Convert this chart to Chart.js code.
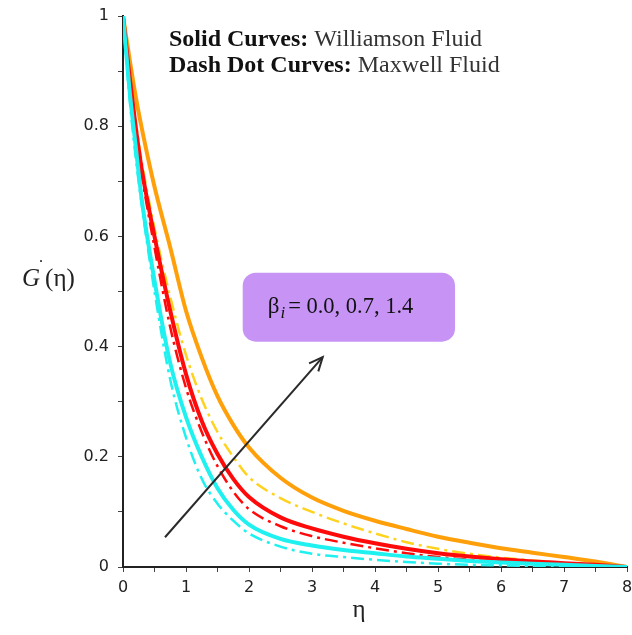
<!DOCTYPE html>
<html>
<head>
<meta charset="utf-8">
<script src="https://cdn.jsdelivr.net/npm/chart.js@4/dist/chart.umd.min.js"></script>
<style>
html,body{margin:0;padding:0;background:#fff;}
#wrap{position:relative;width:632px;height:635px;}
</style>
</head>
<body>
<div id="wrap"><canvas id="c" width="632" height="635"></canvas></div>
<script>
// eta grid
const eta = [0,0.1,0.2,0.3,0.5,0.75,1,1.25,1.5,1.75,2,2.5,3,3.5,4,4.5,5,5.5,6,6.5,7,7.5,8];
// Williamson fluid (solid)
const wilBeta00 = [1,0.87,0.765,0.665,0.52,0.37,0.272,0.2,0.143,0.104,0.077,0.051,0.039,0.031,0.025,0.019,0.015,0.011,0.008,0.006,0.004,0.002,0];
const wilBeta07 = [1,0.895,0.8,0.72,0.6,0.465,0.35,0.265,0.205,0.16,0.127,0.09,0.07,0.055,0.043,0.033,0.025,0.019,0.014,0.01,0.007,0.004,0];
const wilBeta14 = [1,0.925,0.855,0.795,0.69,0.58,0.465,0.38,0.31,0.258,0.217,0.162,0.126,0.102,0.084,0.069,0.055,0.044,0.034,0.026,0.018,0.01,0];
// Maxwell fluid (dash-dot)
const maxBeta00 = [1,0.855,0.745,0.655,0.5,0.34,0.235,0.16,0.115,0.084,0.061,0.037,0.024,0.018,0.013,0.009,0.006,0.004,0.003,0.002,0.001,0.0005,0];
const maxBeta07 = [1,0.885,0.79,0.71,0.58,0.435,0.325,0.245,0.183,0.137,0.105,0.074,0.056,0.044,0.034,0.025,0.018,0.013,0.009,0.006,0.004,0.002,0];
const maxBeta14 = [1,0.9,0.81,0.735,0.615,0.49,0.385,0.305,0.245,0.2,0.163,0.125,0.1,0.079,0.061,0.045,0.033,0.024,0.017,0.012,0.007,0.003,0];
// ticks
const xTickLabels = [0,1,2,3,4,5,6,7,8];
const yTickLabels = [0,0.2,0.4,0.6,0.8,1];
// annotation anchors in data space
const arrowFrom = {x:0.667, y:0.054};
const arrowTo = {x:3.17, y:0.381};
const boxRange = {x0:1.9, x1:5.27, y0:0.409, y1:0.534};

const toPts = arr => eta.map((e,i)=>({x:e,y:arr[i]}));

const COLORS = {cyan:'#1ff0f0', red:'#ff0a0a', orange:'#ffa00a', gold:'#ffd21e'};
const DD = [13,5,3,5];

function solid(data,color){return {data:toPts(data),borderColor:color,borderWidth:4,pointRadius:0,fill:false,cubicInterpolationMode:'monotone'};}
function dashdot(data,color){return {data:toPts(data),borderColor:color,borderWidth:2.5,borderDash:DD,pointRadius:0,fill:false,cubicInterpolationMode:'monotone'};}

const overlay = {
  id:'overlay',
  afterDatasetsDraw(chart){
    const ctx = chart.ctx, xs = chart.scales.x, ys = chart.scales.y, ca = chart.chartArea;
    ctx.save();
    // purple box
    const bx0 = xs.getPixelForValue(boxRange.x0), bx1 = xs.getPixelForValue(boxRange.x1);
    const by0 = ys.getPixelForValue(boxRange.y1), by1 = ys.getPixelForValue(boxRange.y0);
    ctx.fillStyle = '#c794f6';
    ctx.beginPath();
    ctx.roundRect(bx0,by0,bx1-bx0,by1-by0,13);
    ctx.fill();
    // box text
    ctx.fillStyle = '#111';
    ctx.textBaseline = 'alphabetic';
    const tx = bx0 + 25, ty = (by0+by1)/2 + 6;
    ctx.font = '23px "Liberation Serif"';
    ctx.fillText('β', tx, ty);
    let w = ctx.measureText('β').width;
    ctx.font = 'italic 17px "Liberation Serif"';
    ctx.fillText('i', tx + w + 1, ty + 5);
    const w2 = ctx.measureText('i').width;
    ctx.font = '22.5px "Liberation Serif"';
    ctx.fillText('= 0.0, 0.7, 1.4', tx + w + w2 + 4, ty);
    // arrow
    const ax0 = xs.getPixelForValue(arrowFrom.x), ay0 = ys.getPixelForValue(arrowFrom.y);
    const ax1 = xs.getPixelForValue(arrowTo.x), ay1 = ys.getPixelForValue(arrowTo.y);
    ctx.strokeStyle = '#2a2a2a';
    ctx.lineWidth = 2;
    ctx.beginPath(); ctx.moveTo(ax0,ay0); ctx.lineTo(ax1,ay1); ctx.stroke();
    const ang = Math.atan2(ay1-ay0, ax1-ax0), hl = 15, ha = 0.42;
    ctx.beginPath();
    ctx.moveTo(ax1 - hl*Math.cos(ang-ha), ay1 - hl*Math.sin(ang-ha));
    ctx.lineTo(ax1, ay1);
    ctx.lineTo(ax1 - hl*Math.cos(ang+ha), ay1 - hl*Math.sin(ang+ha));
    ctx.stroke();
    // legend text
    const lx = 169;
    ctx.fillStyle = '#111';
    ctx.font = 'bold 24px "Liberation Serif"';
    ctx.fillText('Solid Curves:', lx, 46);
    let lw = ctx.measureText('Solid Curves: ').width;
    ctx.font = '24px "Liberation Serif"';
    ctx.fillStyle = '#333';
    ctx.fillText('Williamson Fluid', lx + lw, 46);
    ctx.fillStyle = '#111';
    ctx.font = 'bold 24px "Liberation Serif"';
    ctx.fillText('Dash Dot Curves:', lx, 72);
    lw = ctx.measureText('Dash Dot Curves: ').width;
    ctx.font = '24px "Liberation Serif"';
    ctx.fillStyle = '#333';
    ctx.fillText('Maxwell Fluid', lx + lw, 72);
    // y axis title
    ctx.fillStyle = '#222';
    ctx.font = 'italic 25px "Liberation Serif"';
    const gx = 22, gy = 286;
    ctx.fillText('G', gx, gy);
    const gw = ctx.measureText('G').width;
    ctx.font = '18px "Liberation Serif"';
    ctx.fillText('\u02D9', gx + gw - 2, gy - 13);
    ctx.font = '25px "Liberation Serif"';
    ctx.fillText('(η)', gx + gw + 5, gy);
    // x axis title
    ctx.font = '25px "Liberation Serif"';
    ctx.textAlign = 'center';
    ctx.fillText('η', (ca.left+ca.right)/2 - 16, 617);
    ctx.restore();
  }
};

new Chart(document.getElementById('c'), {
  type:'line',
  data:{datasets:[
    solid(wilBeta00, COLORS.cyan),
    solid(wilBeta07, COLORS.red),
    solid(wilBeta14, COLORS.orange),
    dashdot(maxBeta00, COLORS.cyan),
    dashdot(maxBeta07, COLORS.red),
    dashdot(maxBeta14, COLORS.gold)
  ]},
  options:{
    responsive:false,
    animation:false,
    devicePixelRatio:1,
    layout:{padding:{top:16,right:5,left:0,bottom:0}},
    plugins:{legend:{display:false},tooltip:{enabled:false}},
    scales:{
      x:{type:'linear',min:0,max:8,
        border:{color:'#222',width:2},
        grid:{display:true,drawOnChartArea:false,tickLength:5,color:'#444'},
        ticks:{stepSize:0.5,autoSkip:false,maxRotation:0,padding:6,color:'#222',
          font:{family:'DejaVu Sans',size:16},
          callback:v=> xTickLabels.includes(v) ? String(v) : ''},
        afterFit(s){s.height = 68; s.paddingLeft = 0; s.paddingRight = 0;}
      },
      y:{type:'linear',min:0,max:1,
        border:{color:'#222',width:2},
        grid:{display:true,drawOnChartArea:false,tickLength:5,color:'#444'},
        ticks:{stepSize:0.1,autoSkip:false,padding:9,color:'#222',
          font:{family:'DejaVu Sans',size:16},
          callback:v=>{const r=Math.round(v*10)/10; return yTickLabels.includes(r) ? String(r) : '';}},
        afterFit(s){s.width = 123; s.paddingTop = 0; s.paddingBottom = 0;}
      }
    }
  },
  plugins:[overlay]
});
</script>
</body>
</html>
